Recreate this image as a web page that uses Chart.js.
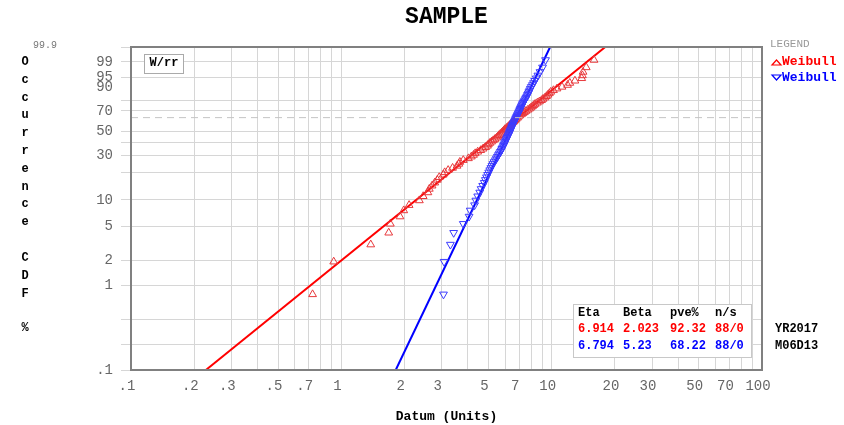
<!DOCTYPE html>
<html>
<head>
<meta charset="utf-8">
<script src="https://cdn.jsdelivr.net/npm/chart.js@4/dist/chart.umd.min.js"></script>
<style>
    body { margin: 0; background: #fff; }
</style>
</head>
<body>
<canvas id="weibullChart" width="844" height="425"></canvas>
<script>
// median ranks (%) shared by both samples, 88 failures / 0 suspensions
var rankPct = [0.79, 1.92, 3.05, 4.19, 5.32, 6.45, 7.58, 8.71, 9.84, 10.97,
    12.10, 13.24, 14.37, 15.50, 16.63, 17.76, 18.89, 20.02, 21.15, 22.29,
    23.42, 24.55, 25.68, 26.81, 27.94, 29.07, 30.20, 31.33, 32.47, 33.60,
    34.73, 35.86, 36.99, 38.12, 39.25, 40.38, 41.52, 42.65, 43.78, 44.91,
    46.04, 47.17, 48.30, 49.43, 50.57, 51.70, 52.83, 53.96, 55.09, 56.22,
    57.35, 58.48, 59.62, 60.75, 61.88, 63.01, 64.14, 65.27, 66.40, 67.53,
    68.67, 69.80, 70.93, 72.06, 73.19, 74.32, 75.45, 76.58, 77.71, 78.85,
    79.98, 81.11, 82.24, 83.37, 84.50, 85.63, 86.76, 87.90, 89.03, 90.16,
    91.29, 92.42, 93.55, 94.68, 95.81, 96.95, 98.08, 99.21];

// red sample (up triangles)
var redX = [0.73, 0.92, 1.38, 1.68, 1.71, 1.90, 1.98, 2.10, 2.35, 2.45,
    2.58, 2.62, 2.70, 2.78, 2.86, 2.92, 3.05, 3.10, 3.22, 3.38,
    3.55, 3.62, 3.66, 3.80, 4.02, 4.15, 4.25, 4.33, 4.45, 4.60,
    4.72, 4.85, 4.95, 5.00, 5.08, 5.18, 5.28, 5.38, 5.48, 5.55,
    5.62, 5.70, 5.78, 5.86, 5.93, 6.00, 6.10, 6.20, 6.28, 6.35,
    6.45, 6.55, 6.62, 6.70, 6.78, 6.88, 6.95, 7.05, 7.18, 7.30,
    7.42, 7.55, 7.70, 7.85, 7.98, 8.10, 8.22, 8.35, 8.55, 8.75,
    8.95, 9.10, 9.30, 9.45, 9.60, 9.75, 9.90, 10.2, 10.6, 11.2,
    11.9, 12.2, 12.9, 13.9, 14.0, 14.1, 14.6, 15.9];

// blue sample (down triangles)
var blueX = [3.06, 3.08, 3.30, 3.42, 3.80, 4.05, 4.10, 4.30, 4.36, 4.45,
    4.55, 4.62, 4.70, 4.78, 4.84, 4.90, 4.96, 5.02, 5.08, 5.14,
    5.20, 5.26, 5.32, 5.40, 5.46, 5.52, 5.58, 5.64, 5.70, 5.76,
    5.80, 5.85, 5.90, 5.94, 5.98, 6.02, 6.06, 6.10, 6.14, 6.18,
    6.22, 6.26, 6.30, 6.33, 6.36, 6.40, 6.44, 6.47, 6.50, 6.54,
    6.58, 6.62, 6.66, 6.70, 6.74, 6.78, 6.82, 6.86, 6.90, 6.94,
    6.98, 7.02, 7.06, 7.10, 7.14, 7.18, 7.22, 7.26, 7.32, 7.38,
    7.44, 7.50, 7.56, 7.62, 7.68, 7.74, 7.80, 7.86, 7.92, 8.00,
    8.10, 8.20, 8.30, 8.45, 8.60, 8.80, 9.05, 9.35];

// fitted lines, read where they leave the plot
var fitPct = [0.1, 99.9];
var redFitX = [0.227, 17.98];
var blueFitX = [1.814, 9.83];
var refPct = 63.2;

var statsHead = ['Eta', 'Beta', 'pve%', 'n/s'];
var redStats = ['6.914', '2.023', '92.32', '88/0'];
var blueStats = ['6.794', '5.23', '68.22', '88/0'];

var yGridPct = [0.1, 0.2, 0.4, 1, 2, 5, 10, 20, 30, 40, 50, 70, 80, 90, 95, 99, 99.9];
var yLabelPct = [0.1, 1, 2, 5, 10, 30, 50, 70, 90, 95, 99];
var xGrid = [0.1, 0.2, 0.3, 0.4, 0.5, 0.6, 0.7, 0.8, 0.9, 1, 2, 3, 4, 5, 6, 7, 8, 9,
    10, 20, 30, 40, 50, 60, 70, 80, 90, 100];
var xLabels = [0.1, 0.2, 0.3, 0.5, 0.7, 1, 2, 3, 5, 7, 10, 20, 30, 50, 70, 100];

var RED = '#ff0000', BLUE = '#0000ff';
var MONO = '"Liberation Mono", "Courier New", monospace';

// weibull probability paper: ln(-ln(1-F))
function wb(p) {
    return Math.log(-Math.log(1 - p / 100));
}
function fmt(v) {
    return v < 1 ? String(v).replace('0.', '.') : String(v);
}
function pts(xs, ps) {
    return xs.map(function (x, i) { return { x: x, y: wb(ps[i]) }; });
}

var decor = {
    id: 'decor',
    beforeDraw: function (chart) {
        var ctx = chart.ctx;
        ctx.save();
        ctx.fillStyle = '#fff';
        ctx.fillRect(0, 0, chart.width, chart.height);
        ctx.restore();
    },
    afterDraw: function (chart) {
        var ctx = chart.ctx, a = chart.chartArea;
        ctx.save();
        ctx.strokeStyle = '#808080';
        ctx.lineWidth = 2;
        ctx.strokeRect(a.left, a.top, a.right - a.left, a.bottom - a.top);

        ctx.textBaseline = 'middle';
        ctx.fillStyle = '#000';
        ctx.textAlign = 'center';
        ctx.font = 'bold 23px ' + MONO;
        ctx.fillText('SAMPLE', (a.left + a.right) / 2, 17);

        // stacked side caption
        ctx.font = 'bold 12px ' + MONO;
        var word = 'Occurrence';
        for (var i = 0; i < word.length; i++) {
            ctx.fillText(word[i], 25, 62 + i * 17.8);
        }
        ['C', 'D', 'F'].forEach(function (c, i) { ctx.fillText(c, 25, 258 + i * 17.8); });
        ctx.fillText('%', 25, 328);

        ctx.font = '10px ' + MONO;
        ctx.fillStyle = '#777';
        ctx.fillText('99.9', 45, 45);

        // W/rr tag
        ctx.fillStyle = '#fff';
        ctx.fillRect(144, 54, 39, 19);
        ctx.strokeStyle = '#aaa';
        ctx.lineWidth = 1;
        ctx.strokeRect(144.5, 54.5, 39, 19);
        ctx.fillStyle = '#000';
        ctx.font = 'bold 12px ' + MONO;
        ctx.fillText('W/rr', 164, 63);

        // legend
        ctx.textAlign = 'left';
        ctx.font = '11px ' + MONO;
        ctx.fillStyle = '#999';
        ctx.fillText('LEGEND', 770, 44);
        ctx.font = 'bold 13px ' + MONO;
        ctx.fillStyle = RED;
        ctx.fillText('Weibull', 782, 62);
        ctx.fillStyle = BLUE;
        ctx.fillText('Weibull', 782, 78);
        ctx.lineWidth = 1.2;
        ctx.strokeStyle = RED;
        ctx.beginPath();
        ctx.moveTo(772, 65); ctx.lineTo(781, 65); ctx.lineTo(776.5, 60); ctx.closePath();
        ctx.stroke();
        ctx.strokeStyle = BLUE;
        ctx.beginPath();
        ctx.moveTo(772, 75); ctx.lineTo(781, 75); ctx.lineTo(776.5, 80); ctx.closePath();
        ctx.stroke();

        // parameter table
        ctx.fillStyle = '#fff';
        ctx.fillRect(573, 304, 178, 53);
        ctx.strokeStyle = '#c8c8c8';
        ctx.lineWidth = 1;
        ctx.strokeRect(573.5, 304.5, 178, 53);
        var cols = [578, 623, 670, 715];
        ctx.font = 'bold 12px ' + MONO;
        [[statsHead, '#000', 313], [redStats, RED, 329], [blueStats, BLUE, 346]].forEach(function (row) {
            ctx.fillStyle = row[1];
            row[0].forEach(function (t, i) { ctx.fillText(t, cols[i], row[2]); });
        });
        ctx.fillStyle = '#000';
        ctx.fillText('YR2017', 775, 329);
        ctx.fillText('M06D13', 775, 346);
        ctx.restore();
    }
};

var ctx = document.getElementById('weibullChart').getContext('2d');
new Chart(ctx, {
    type: 'scatter',
    data: {
        datasets: [{
            type: 'line',
            data: pts([0.1, 100], [refPct, refPct]),
            borderColor: '#c4c4c4',
            borderWidth: 1,
            borderDash: [7, 5],
            pointRadius: 0
        }, {
            label: 'Weibull',
            data: pts(blueX, rankPct),
            pointStyle: 'triangle',
            rotation: 180,
            pointRadius: 4.5,
            borderWidth: 1,
            borderColor: '#3c3cff',
            backgroundColor: 'rgba(0,0,0,0)'
        }, {
            label: 'Weibull',
            data: pts(redX, rankPct),
            pointStyle: 'triangle',
            pointRadius: 4.5,
            borderWidth: 1,
            borderColor: '#e8393c',
            backgroundColor: 'rgba(0,0,0,0)'
        }, {
            type: 'line',
            data: pts(blueFitX, fitPct),
            borderColor: BLUE,
            borderWidth: 2,
            pointRadius: 0
        }, {
            type: 'line',
            data: pts(redFitX, fitPct),
            borderColor: RED,
            borderWidth: 2,
            pointRadius: 0
        }]
    },
    options: {
        responsive: false,
        animation: false,
        layout: { padding: { left: 0, right: 82, top: 47, bottom: 0 } },
        plugins: {
            legend: { display: false },
            tooltip: { enabled: false }
        },
        scales: {
            x: {
                type: 'logarithmic',
                min: 0.1,
                max: 100,
                afterBuildTicks: function (scale) {
                    scale.ticks = xGrid.map(function (v) { return { value: v }; });
                },
                afterFit: function (scale) { scale.height = 55; },
                grid: { color: '#d6d6d6', drawTicks: false },
                border: { display: false },
                ticks: {
                    autoSkip: false,
                    maxRotation: 0,
                    padding: 8,
                    labelOffset: -4,
                    color: '#666',
                    font: { family: MONO, size: 14 },
                    callback: function (value) {
                        return xLabels.indexOf(value) >= 0 ? fmt(value) : '';
                    }
                },
                title: {
                    display: true,
                    text: 'Datum (Units)',
                    color: '#000',
                    font: { family: MONO, size: 13, weight: 'bold' },
                    padding: { top: 0, bottom: 0 }
                }
            },
            y: {
                type: 'linear',
                min: wb(0.1),
                max: wb(99.9),
                afterBuildTicks: function (scale) {
                    scale.ticks = yGridPct.map(function (p) { return { value: wb(p) }; });
                },
                afterFit: function (scale) { scale.width = 131; },
                grid: {
                    color: function (c) {
                        return yGridPct[c.index] === 90 ? 'rgba(0,0,0,0)' : '#d6d6d6';
                    },
                    tickLength: 10
                },
                border: { display: false },
                ticks: {
                    autoSkip: false,
                    padding: 8,
                    color: '#666',
                    font: { family: MONO, size: 14 },
                    callback: function (value, index) {
                        var p = yGridPct[index];
                        return yLabelPct.indexOf(p) >= 0 ? fmt(p) : '';
                    }
                }
            }
        }
    },
    plugins: [decor]
});
</script>
</body>
</html>
